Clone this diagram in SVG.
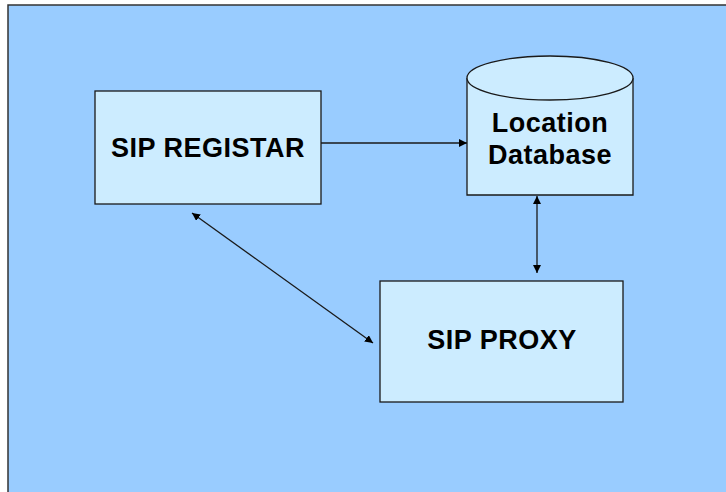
<svg xmlns="http://www.w3.org/2000/svg" width="726" height="492" viewBox="0 0 726 492">
  <style>
    .node { fill: #CCECFF; stroke: #1a1a1a; stroke-width: 1.3; }
    .label { font-family: "Liberation Sans", Arial, sans-serif; font-weight: bold; font-size: 27px; letter-spacing: 0.5px; fill: #000; text-anchor: middle; }
    .wire { stroke: #1a1a1a; stroke-width: 1.3; fill: none; }
  </style>
  <defs>
    <marker id="head" viewBox="0 0 10 10" refX="10" refY="5" markerWidth="8" markerHeight="8" markerUnits="userSpaceOnUse" orient="auto-start-reverse">
      <path d="M0,0 L10,5 L0,10 z" fill="#000"/>
    </marker>
  </defs>

  <!-- slide background -->
  <rect x="8" y="5" width="730" height="500" fill="#99CCFF" stroke="#333" stroke-width="1.5"/>

  <g id="connectors">
    <line class="wire" x1="321" y1="143" x2="467" y2="143" marker-end="url(#head)"/>
    <line class="wire" x1="537" y1="196" x2="537" y2="273" marker-start="url(#head)" marker-end="url(#head)"/>
    <line class="wire" x1="192" y1="213" x2="373" y2="343" marker-start="url(#head)" marker-end="url(#head)"/>
  </g>

  <g id="sip-registar">
    <rect class="node" x="95" y="91" width="226" height="113"/>
    <text class="label" x="208" y="157">SIP REGISTAR</text>
  </g>

  <g id="location-database">
    <path class="node" d="M467,78 L467,195 L633,195 L633,78"/>
    <ellipse class="node" cx="550" cy="78" rx="83" ry="22"/>
    <text class="label" x="550" y="132">Location</text>
    <text class="label" x="550" y="164">Database</text>
  </g>

  <g id="sip-proxy">
    <rect class="node" x="380" y="281" width="243" height="121"/>
    <text class="label" x="502" y="349">SIP PROXY</text>
  </g>
</svg>
